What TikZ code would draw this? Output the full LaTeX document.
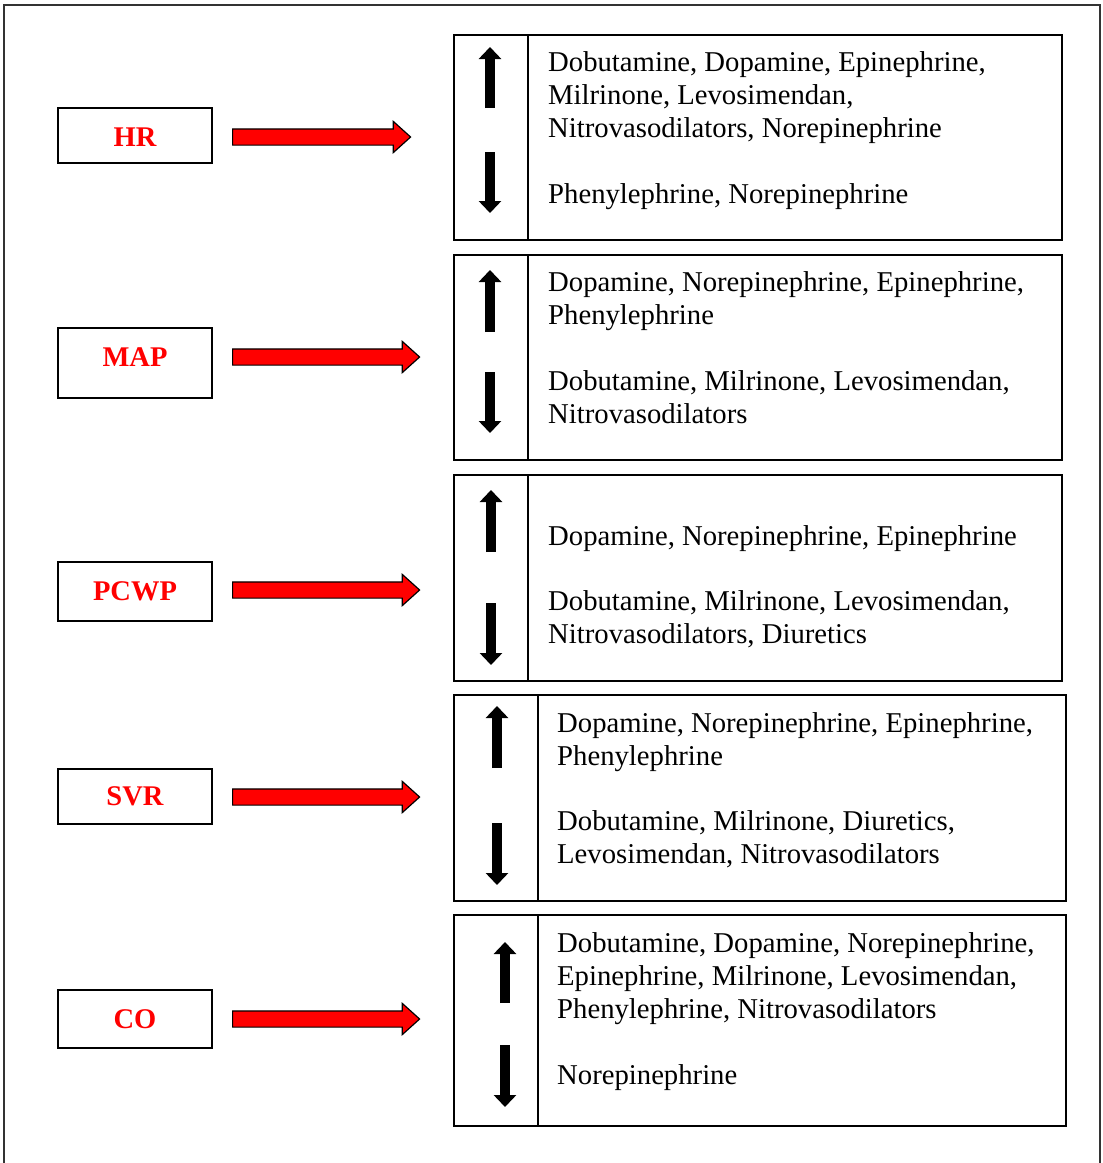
\documentclass[tikz,border=0pt]{standalone}
\usepackage{fontspec}
\setmainfont{Liberation Serif}
\usepackage{xcolor}
\definecolor{red}{rgb}{1.0,0.0,0.0}
\usepackage{tikz}
\usetikzlibrary{positioning,calc}
\usetikzlibrary{arrows.meta}
\usetikzlibrary{shapes.arrows}
\tikzset{
  param/.style   ={ font=\fontsize{28.5}{33}\selectfont\bfseries, text=red, rectangle, draw=black, line width=1.5pt,
                    inner sep=0pt, outer sep=0pt, minimum width=154pt },
  druglist/.style={ rectangle, draw=black, line width=1.5pt, inner sep=0pt, outer sep=0pt },
  drugs/.style   ={ font=\fontsize{28.7}{32.8}\selectfont, align=left, inner sep=0pt, anchor=base west },
  bigarrow/.style={ single arrow, draw=black, fill=red, line width=1.2pt, inner xsep=0pt, inner ysep=7.5pt,
                    single arrow head extend=7.5pt, single arrow tip angle=84, anchor=tail },
  divider/.style ={ draw=black, line width=1.5pt },
  rise/.style    ={ line width=9.5pt, -{Triangle[width=22pt,length=12pt]} },
  fall/.style    ={ line width=9.5pt, -{Triangle[width=22pt,length=12pt]} }
}

\begin{document}
\begin{tikzpicture}[x=1pt,y=-1pt]
        \useasboundingbox (0,0) rectangle (1103,1163);
        \draw[line width=2pt,black!80] (4,1170) -- (4,5) -- (1100,5) -- (1100,1170);
        % parameters
        \node[param, minimum height=55pt, text height=22pt] (HR) at (135,135.5) {HR};
        \node[param, minimum height=70pt, text depth=12pt] (MAP) at (135,363) {MAP};
        \node[param, minimum height=59pt] (PCWP) at (135,591.5) {PCWP};
        \node[param, minimum height=55pt] (SVR) at (135,796.5) {SVR};
        \node[param, minimum height=58pt] (CO) at (135,1019) {CO};
        % drug boxes
        \node[druglist, minimum width=608pt, minimum height=205pt] (HRlist) at (758,137.5) {};
        \node[druglist, minimum width=608pt, minimum height=205pt] (MAPlist) at (758,357.5) {};
        \node[druglist, minimum width=608pt, minimum height=206pt] (PCWPlist) at (758,578) {};
        \node[druglist, minimum width=612pt, minimum height=206pt] (SVRlist) at (760,798) {};
        \node[druglist, minimum width=612pt, minimum height=211pt] (COlist) at (760,1020.5) {};
        \draw[divider] ([xshift=74pt]HRlist.north west) -- ([xshift=74pt]HRlist.south west);
        \draw[divider] ([xshift=74pt]MAPlist.north west) -- ([xshift=74pt]MAPlist.south west);
        \draw[divider] ([xshift=74pt]PCWPlist.north west) -- ([xshift=74pt]PCWPlist.south west);
        \draw[divider] ([xshift=84pt]SVRlist.north west) -- ([xshift=84pt]SVRlist.south west);
        \draw[divider] ([xshift=84pt]COlist.north west) -- ([xshift=84pt]COlist.south west);
        % red arrows
        \node[bigarrow, minimum height=178pt] (HRarrow) at (232,137) {};
        \node[bigarrow, minimum height=187pt] (MAParrow) at (232,357) {};
        \node[bigarrow, minimum height=187pt] (PCWParrow) at (232,590) {};
        \node[bigarrow, minimum height=187pt] (SVRarrow) at (232,797) {};
        \node[bigarrow, minimum height=187pt] (COarrow) at (232,1019) {};
        % up / down
        \draw[rise] (490,108) -- (490,47);
        \draw[fall] (490,152) -- (490,213);
        \draw[rise] (490,332) -- (490,270);
        \draw[fall] (490,372) -- (490,433);
        \draw[rise] (491,552) -- (491,490);
        \draw[fall] (491,603) -- (491,665);
        \draw[rise] (497,768) -- (497,706);
        \draw[fall] (497,823) -- (497,885);
        \draw[rise] (505,1003) -- (505,942);
        \draw[fall] (505,1045) -- (505,1107);
        % texts (multi-line: base = last line)
        \node[drugs] (HRup) at (548,137) {Dobutamine, Dopamine, Epinephrine,\\Milrinone, Levosimendan,\\Nitrovasodilators, Norepinephrine};
        \node[drugs] (HRdown) at (548,203) {Phenylephrine, Norepinephrine};
        \node[drugs] (MAPup) at (548,324) {Dopamine, Norepinephrine, Epinephrine,\\Phenylephrine};
        \node[drugs] (MAPdown) at (548,423) {Dobutamine, Milrinone, Levosimendan,\\Nitrovasodilators};
        \node[drugs] (PCWPup) at (548,545) {Dopamine, Norepinephrine, Epinephrine};
        \node[drugs] (PCWPdown) at (548,643) {Dobutamine, Milrinone, Levosimendan,\\Nitrovasodilators, Diuretics};
        \node[drugs] (SVRup) at (557,765) {Dopamine, Norepinephrine, Epinephrine,\\Phenylephrine};
        \node[drugs] (SVRdown) at (557,863) {Dobutamine, Milrinone, Diuretics,\\Levosimendan, Nitrovasodilators};
        \node[drugs] (COup) at (557,1018) {Dobutamine, Dopamine, Norepinephrine,\\Epinephrine, Milrinone, Levosimendan,\\Phenylephrine, Nitrovasodilators};
        \node[drugs] (COdown) at (557,1084) {Norepinephrine};
      \end{tikzpicture}
\end{document}
